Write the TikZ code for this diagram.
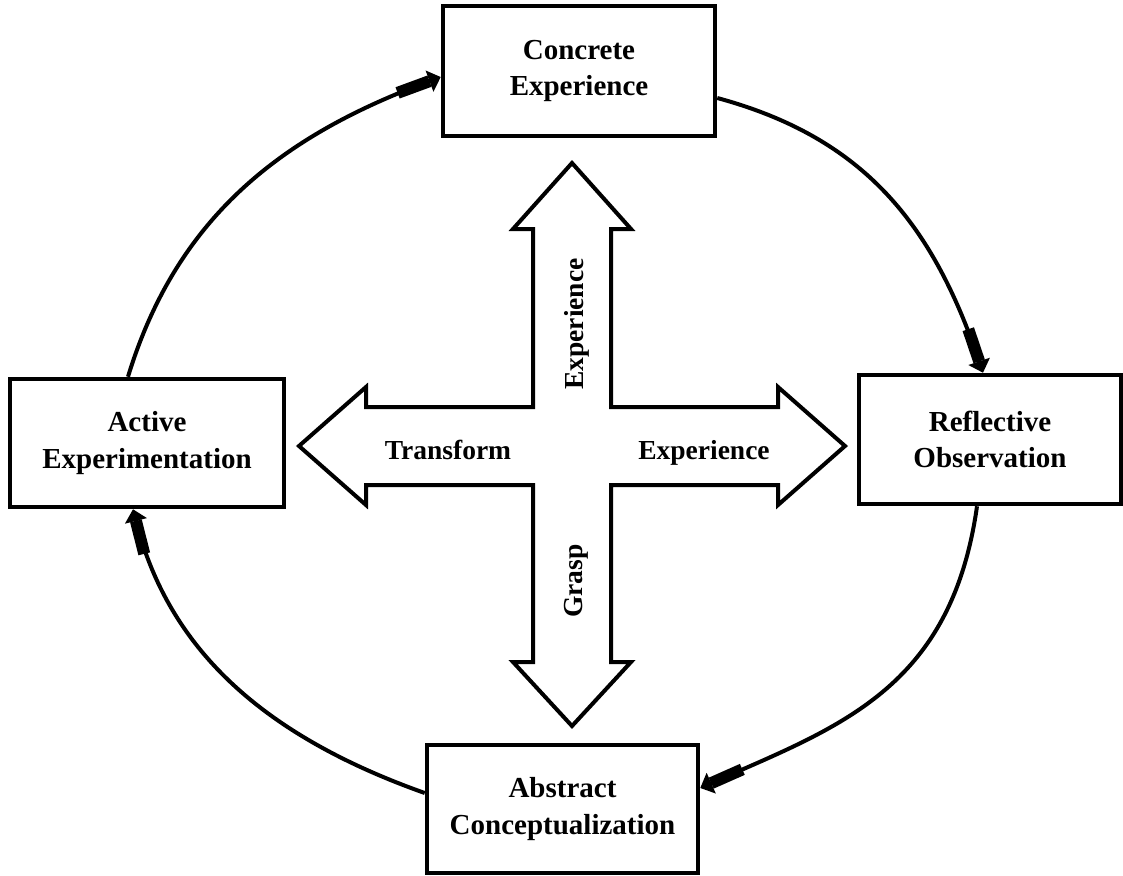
\documentclass[tikz,border=0pt]{standalone}
\usepackage{fontspec}
\setmainfont{Liberation Serif}
\usetikzlibrary{arrows.meta,calc}
\begin{document}
\begin{tikzpicture}[x=1pt,y=-1pt,
  stagebox/.style={draw, line width=4.5pt, fill=white, align=center, inner sep=0pt,
    font=\fontsize{29}{36.5}\selectfont\bfseries},
  loopline/.style={line width=4pt,
    -{Rectangle[length=34pt,width=12pt,sep=0pt] Triangle[length=12pt,width=22pt]}},
  lbl/.style={font=\fontsize{27.5}{33}\selectfont\bfseries, inner sep=0pt},
  crossshape/.style={draw, line width=4pt, line join=miter, fill=white}
]
\useasboundingbox (0,0) rectangle (1123,875);

\node[stagebox, minimum width=272pt, minimum height=130pt] (ce) at (579,71) {Concrete\\Experience};
\node[stagebox, minimum width=262pt, minimum height=129pt] (ro) at (990,439.5) {Reflective\\Observation};
\node[stagebox, minimum width=274pt, minimum height=128pt] (ae) at (147,443) {Active\\Experimentation};
\node[stagebox, minimum width=271pt, minimum height=128pt] (ac) at (562.5,809) {Abstract\\Conceptualization};

\draw[loopline] ([yshift=-27pt]ce.east) .. controls (865,138) and (933,225) .. ([xshift=-7pt]ro.north);
\draw[loopline] ([xshift=-13pt]ro.south) .. controls (951,690) and (838,727) .. ([yshift=21pt]ac.east);
\draw[loopline] ([yshift=16pt]ac.west) .. controls (267,737) and (169,652) .. ([xshift=-14pt]ae.south);
\draw[loopline] ([xshift=-19pt]ae.north) .. controls (177,216) and (283,135) .. ([yshift=-6pt]ce.west);

\draw[crossshape] (572,163) -- (631,229) -- (611,229) -- (611,407) -- (778,407) -- (778,387)
  -- (845,446) -- (778,505) -- (778,485) -- (611,485) -- (611,662) -- (631,662)
  -- (572,726) -- (513,662) -- (533,662) -- (533,485) -- (366,485) -- (366,505)
  -- (299,446) -- (366,387) -- (366,407) -- (533,407) -- (533,229) -- (513,229) -- cycle;

\node[lbl, rotate=90] (l1) at (577,324) {Experience};
\node[lbl, rotate=90] (l2) at (576,581) {Grasp};
\node[lbl] (l3) at (448,450) {Transform};
\node[lbl] (l4) at (704,453) {Experience};
\end{tikzpicture}
\end{document}
